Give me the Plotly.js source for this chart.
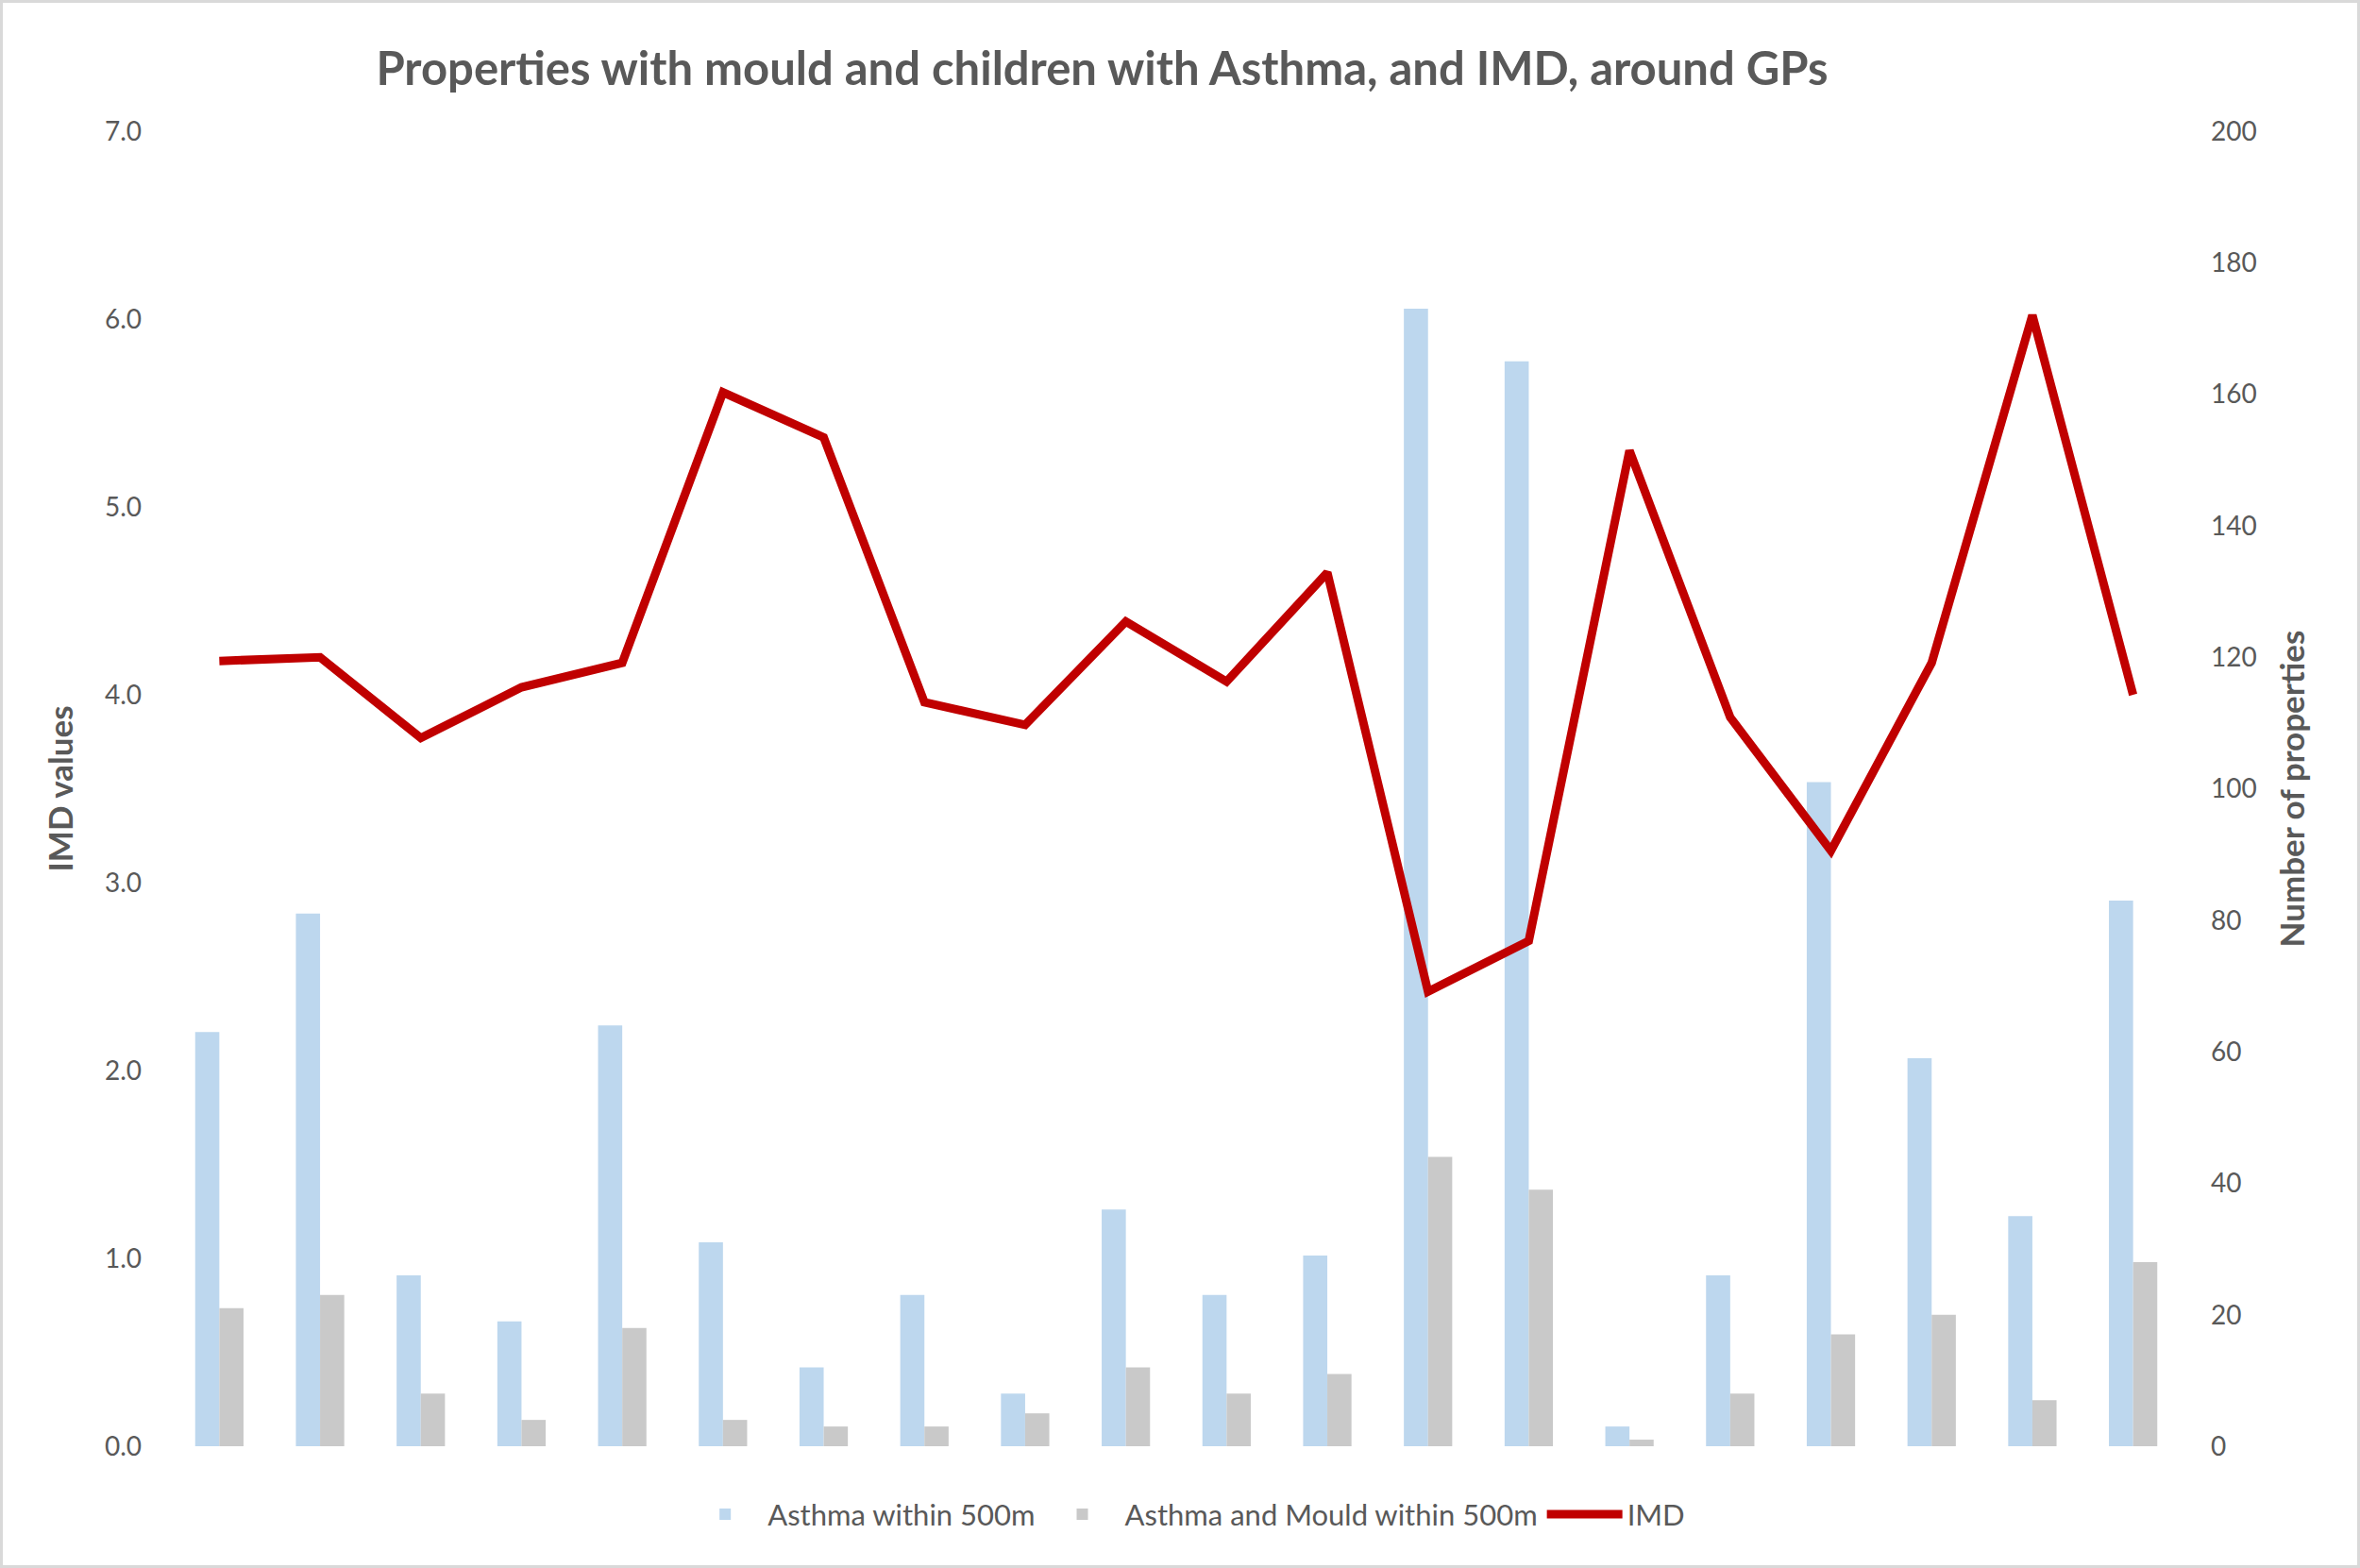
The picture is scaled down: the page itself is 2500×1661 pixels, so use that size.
<!DOCTYPE html>
<html>
<head>
<meta charset="utf-8">
<script src="https://cdn.plot.ly/plotly-3.0.1.min.js"></script>
<style>
  body { margin: 0; background: #fff; }
  #wrap { position: relative; width: 2500px; height: 1661px; }
  #chart { width: 2500px; height: 1661px; }
  #frame { position: absolute; left: 0; top: 0; width: 2500px; height: 1661px;
           box-sizing: border-box; border: 3px solid #D9D9D9; pointer-events: none; }
</style>
</head>
<body>
<div id="wrap">
  <div id="chart"></div>
  <div id="frame"></div>
</div>
<script>
/* ----- data ----- */
var gps = ['GP 1', 'GP 2', 'GP 3', 'GP 4', 'GP 5', 'GP 6', 'GP 7', 'GP 8', 'GP 9', 'GP 10',
           'GP 11', 'GP 12', 'GP 13', 'GP 14', 'GP 15', 'GP 16', 'GP 17', 'GP 18', 'GP 19', 'GP 20'];
var asthma = [63, 81, 26, 19, 64, 31, 12, 23, 8, 36, 23, 29, 173, 165, 3, 26, 101, 59, 35, 83];
var asthmaMould = [21, 23, 8, 4, 18, 4, 3, 3, 5, 12, 8, 11, 44, 39, 1, 8, 17, 20, 7, 28];
var imd = [4.18, 4.20, 3.77, 4.04, 4.17, 5.61, 5.37, 3.96, 3.84, 4.39,
           4.07, 4.65, 2.42, 2.69, 5.30, 3.88, 3.17, 4.17, 6.02, 4.00];

var font = 'Lato, "Open Sans", sans-serif';
var grey = '#595959';

var asthmaBars = {
    x: gps,
    y: asthma,
    type: 'bar',
    name: 'Asthma within 500m',
    marker: {color: '#BDD7EE'},
    yaxis: 'y',
    hoverinfo: 'none'
};

var mouldBars = {
    x: gps,
    y: asthmaMould,
    type: 'bar',
    name: 'Asthma and Mould within 500m',
    marker: {color: '#C9C9C9'},
    yaxis: 'y',
    hoverinfo: 'none'
};

// line sits on the overlaying axis so it draws above the bars
var imdLine = {
    x: gps,
    y: imd,
    type: 'scatter',
    mode: 'lines',
    name: 'IMD',
    line: {color: '#C00000', width: 9},
    yaxis: 'y2',
    hoverinfo: 'none'
};

var layout = {
    width: 2500,
    height: 1661,
    margin: {l: 179, r: 187, t: 139, b: 129},
    paper_bgcolor: '#ffffff',
    plot_bgcolor: '#ffffff',
    font: {family: font, color: grey, size: 28},
    title: {
        text: '<b>Properties with mould and children with Asthma, and IMD, around GPs</b>',
        font: {family: font, size: 49, color: grey},
        x: 0.467,
        xref: 'container',
        xanchor: 'center',
        y: 0.956,
        yref: 'container',
        yanchor: 'middle'
    },
    barmode: 'group',
    bargap: 0.52,
    bargroupgap: 0,
    showlegend: true,
    legend: {
        orientation: 'h',
        x: 0.505,
        xanchor: 'center',
        y: -0.052,
        yanchor: 'middle',
        font: {size: 31, color: grey},
        traceorder: 'normal',
        itemwidth: 80
    },
    xaxis: {
        showticklabels: false,
        showgrid: false,
        zeroline: false,
        showline: false,
        ticks: ''
    },
    yaxis: {
        side: 'right',
        range: [0, 200],
        dtick: 20,
        showgrid: false,
        zeroline: false,
        showline: false,
        ticklabelstandoff: 28,
        title: {text: '<b>Number of properties</b>', font: {size: 35, color: grey}, standoff: 26}
    },
    yaxis2: {
        overlaying: 'y',
        side: 'left',
        range: [0, 7],
        dtick: 1,
        tickformat: '.1f',
        showgrid: false,
        zeroline: false,
        showline: false,
        ticklabelstandoff: 28,
        title: {text: '<b>IMD values</b>', font: {size: 35, color: grey}, standoff: 22}
    }
};

Plotly.newPlot('chart', [asthmaBars, mouldBars, imdLine], layout, {staticPlot: true});
</script>
</body>
</html>
